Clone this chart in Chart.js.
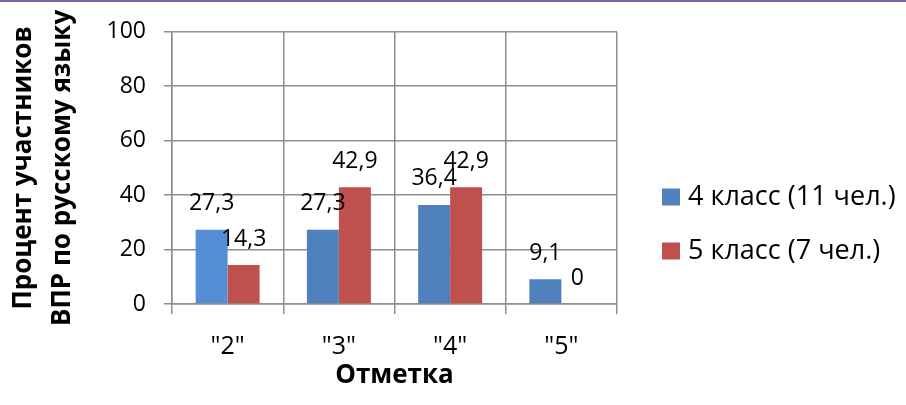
<!DOCTYPE html>
<html>
<head>
<meta charset="utf-8">
<script src="https://cdn.jsdelivr.net/npm/chart.js@4"></script>
<style>
html, body { margin: 0; padding: 0; background: #fff; }
#wrap { position: relative; width: 906px; height: 405px; }
#topline { position: absolute; left: 0; top: 0; width: 906px; height: 2px; background: #8064a2; }
</style>
</head>
<body>
<div id="wrap">
<canvas id="chart" width="906" height="405"></canvas>
<div id="topline"></div>
</div>
<script>
let categories = ['"2"', '"3"', '"4"', '"5"'];
let seriesNames = ['4 класс (11 чел.)', '5 класс (7 чел.)'];
let grade4 = [27.3, 27.3, 36.4, 9.1];
let grade5 = [14.3, 42.9, 42.9, 0];
let yTicks = [0, 20, 40, 60, 80, 100];

let family = '"Open Sans", "Liberation Sans", sans-serif';
let gridColor = '#8e8e8e';

// подписи значений над столбиками
let valueLabels = {
  id: 'valueLabels',
  afterDatasetsDraw(chart) {
    let ctx = chart.ctx;
    ctx.save();
    ctx.font = '23px ' + family;
    ctx.fillStyle = '#000';
    ctx.textAlign = 'center';
    ctx.textBaseline = 'middle';
    chart.data.datasets.forEach((ds, i) => {
      chart.getDatasetMeta(i).data.forEach((bar, j) => {
        ctx.fillText(String(ds.data[j]).replace('.', ','), bar.x, bar.y - 26);
      });
    });
    ctx.restore();
  }
};

// легенда справа
let sideLegend = {
  id: 'sideLegend',
  afterDraw(chart) {
    let ctx = chart.ctx;
    ctx.save();
    ctx.font = '27px ' + family;
    ctx.textBaseline = 'middle';
    ctx.textAlign = 'left';
    chart.data.datasets.forEach((ds, i) => {
      let y = 197 + i * 54;
      ctx.fillStyle = ds.legendColor;
      ctx.fillRect(662, y - 8.5, 18, 17);
      ctx.fillStyle = '#000';
      ctx.fillText(ds.label, 688, y);
    });
    ctx.restore();
  }
};

let chart = new Chart(document.getElementById('chart').getContext('2d'), {
  type: 'bar',
  data: {
    labels: categories,
    datasets: [
      {
        label: seriesNames[0],
        data: grade4,
        backgroundColor: ['#558ed5', '#4f81bd', '#4f81bd', '#4f81bd'],
        legendColor: '#4f81bd',
        categoryPercentage: 0.575,
        barPercentage: 1.0
      },
      {
        label: seriesNames[1],
        data: grade5,
        backgroundColor: '#c0504d',
        legendColor: '#c0504d',
        categoryPercentage: 0.575,
        barPercentage: 1.0
      }
    ]
  },
  options: {
    responsive: false,
    animation: false,
    layout: { padding: { left: 0, right: 289, top: 28, bottom: 0 } },
    plugins: {
      legend: { display: false },
      tooltip: { enabled: false }
    },
    scales: {
      x: {
        grid: { color: gridColor, lineWidth: 1.5, tickLength: 10, offset: true },
        border: { color: gridColor, width: 1.5 },
        ticks: { color: '#000', font: { family: family, size: 25 }, padding: 18 },
        title: {
          display: true,
          text: 'Отметка',
          color: '#000',
          font: { family: family, size: 26, weight: 'bold' },
          padding: { top: 0, bottom: 14 }
        },
        afterFit(scale) { scale.height = 101; }
      },
      y: {
        min: 0,
        max: 100,
        afterBuildTicks(scale) { scale.ticks = yTicks.map(v => ({ value: v })); },
        grid: { color: gridColor, lineWidth: 1.5, tickLength: 8 },
        border: { color: gridColor, width: 1.5 },
        ticks: { color: '#000', font: { family: family, size: 23 }, padding: 18 },
        title: {
          display: true,
          text: ['Процент участников', 'ВПР по русскому языку'],
          color: '#000',
          font: { family: family, size: 26, weight: 'bold', lineHeight: 1.5 },
          padding: { top: 4, bottom: 0 }
        },
        afterFit(scale) { scale.width = 172; }
      }
    }
  },
  plugins: [valueLabels, sideLegend]
});
</script>
</body>
</html>
